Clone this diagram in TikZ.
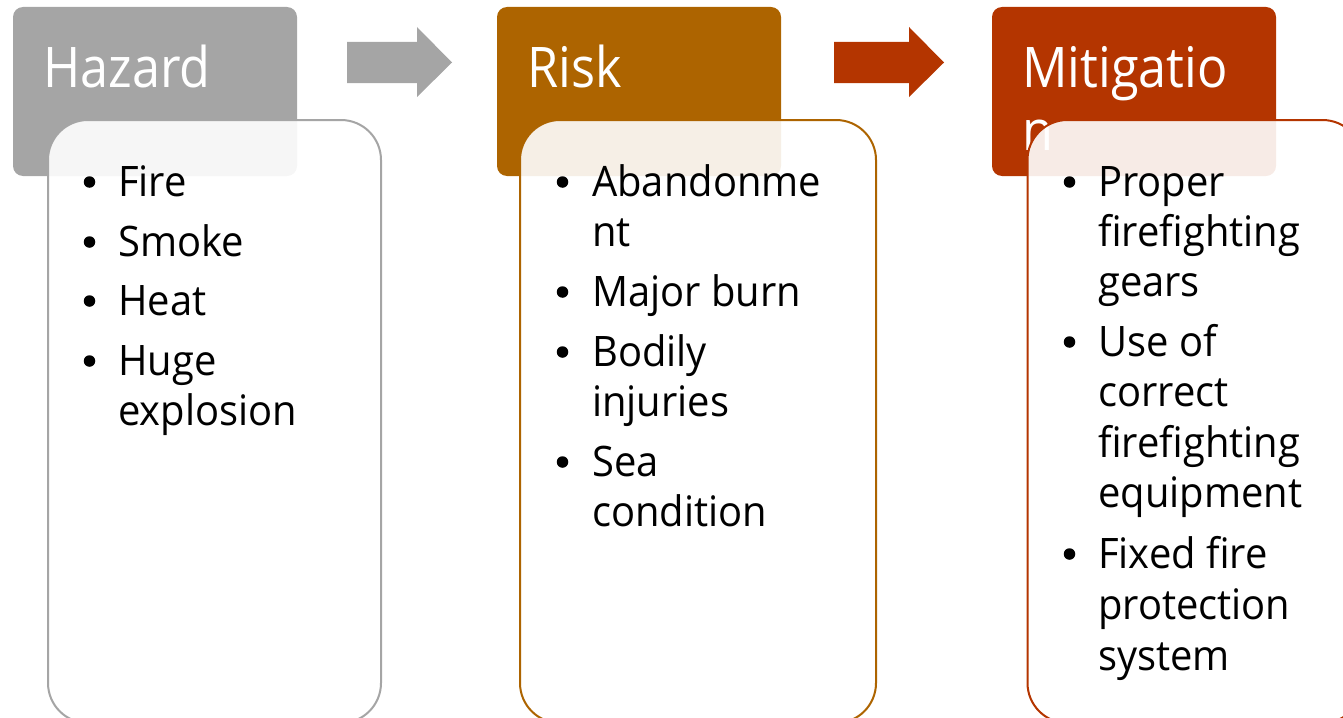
\documentclass[tikz,border=0pt]{standalone}
\usepackage{fontspec}
\setmainfont{Open Sans}[FakeStretch=0.9]
\newfontfamily\bodyfont{Open Sans}[FakeStretch=0.95]
\definecolor{hzgray}{HTML}{A5A5A5}
\definecolor{rkbrown}{HTML}{AD6400}
\definecolor{mtred}{HTML}{B43500}
\begin{document}
\begin{tikzpicture}[x=1pt,y=-1pt,
  header/.style={rounded corners=10pt, minimum width=284pt, minimum height=169pt,
                 inner sep=0pt, draw=none},
  panel/.style={rounded corners=40pt, fill=white, fill opacity=0.9, line width=2pt,
                minimum height=603pt, inner sep=0pt},
  title/.style={anchor=base west, inner sep=0pt, text=white,
                font=\fontsize{56}{62}\selectfont},
  item/.style={anchor=base west, inner sep=0pt, text=black,
               font=\bodyfont\fontsize{42}{50}\selectfont},
  dot/.style={circle, fill=black, inner sep=0pt, minimum size=11.5pt},
  blockarrow/.style={draw=none}
]
\useasboundingbox (0,0) rectangle (1343,717);
\clip (0,0) rectangle (1343,717);

% header blocks
\node[header, fill=hzgray]  (hzh) at (155,91.5)  {};
\node[header, fill=rkbrown] (rkh) at (639,91.5)  {};
\node[header, fill=mtred]   (mth) at (1134,91.5) {};

% header titles
\node[title] (hzt)  at (43,88)    {Hazard};
\node[title] (rkt)  at (527,88)   {Risk};
\node[title] (mtt)  at (1022,88)  {Mitigatio};
\node[title] (mtt2) at (1022,150) {n};

% block arrows between the stages
\fill[blockarrow, hzgray] (347,42) -- (417,42) -- (417,27) -- (452,62.5)
  -- (417,97) -- (417,83) -- (347,83) -- cycle;
\fill[blockarrow, mtred] (834,42) -- (909,42) -- (909,27) -- (944,62.5)
  -- (909,97) -- (909,83) -- (834,83) -- cycle;

% content panels
\node[panel, draw=hzgray,  minimum width=333pt] (hzp) at (214.5,421.5) {};
\node[panel, draw=rkbrown, minimum width=356pt] (rkp) at (698,421.5)   {};
\node[panel, draw=mtred,   minimum width=335pt] (mtp) at (1195,421.5)  {};

% Hazard list
\foreach \y in {196,256,315,375}
  \node[dot] (hzb-\y) at (89.5,\y-14) {};
\foreach \y/\t in {196/Fire,256/Smoke,315/Heat,375/Huge,425/explosion}
  \node[item] (hzi-\y) at (118,\y) {\t};

% Risk list
\foreach \y in {196,306,366,476}
  \node[dot] (rkb-\y) at (562.5,\y-14) {};
\foreach \y/\t in {196/Abandonme,246/nt,306/Major burn,366/Bodily,416/injuries,476/Sea,526/condition}
  \node[item] (rki-\y) at (592,\y) {\t};

% Mitigation list
\foreach \y in {196,356,568}
  \node[dot] (mtb-\y) at (1069.5,\y-14) {};
\foreach \y/\t in {196/Proper,246/firefighting,296/gears,356/Use of,406/correct,457/firefighting,507/equipment,568/Fixed fire,619/protection,670/system}
  \node[item] (mti-\y) at (1098,\y) {\t};
\end{tikzpicture}
\end{document}
